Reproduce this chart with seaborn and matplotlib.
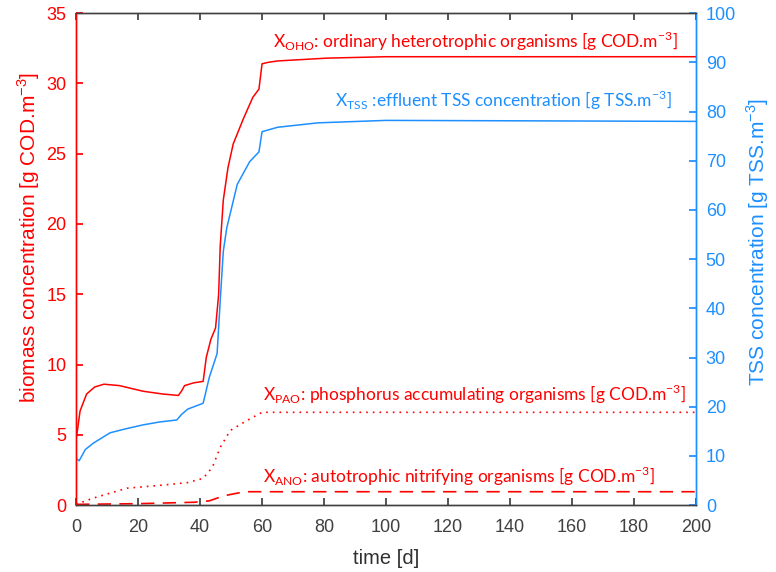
import matplotlib
matplotlib.use("Agg")
import matplotlib.pyplot as plt
import seaborn as sns
import pandas as pd

# Time series of biomass fractions (left axis, g COD/m3) and effluent TSS (right axis, g TSS/m3)
t_oho = [0, 0.5, 1.3, 3.4, 6, 9, 14, 21.6, 28, 33, 34, 35, 38, 41, 42, 43.5, 45, 46,
         46.5, 47.5, 49, 50.7, 54, 57, 59, 60, 62, 65, 81, 100, 200]
x_oho = [4.7, 5.4, 6.7, 7.9, 8.4, 8.6, 8.5, 8.1, 7.9, 7.8, 8.1, 8.5, 8.7, 8.8, 10.5, 11.8,
         12.6, 15.0, 18.4, 21.7, 24.0, 25.7, 27.5, 29.0, 29.6, 31.4, 31.5, 31.6, 31.8, 31.9, 31.9]

t_tss = [0, 1, 3, 5.6, 11, 16, 21.6, 27, 32.5, 34, 36, 41, 43, 45.5, 46.5, 47.5, 48.6,
         52, 56, 59, 60, 65, 78, 100, 200]
x_tss = [9.5, 9.0, 11.3, 12.6, 14.7, 15.5, 16.3, 16.9, 17.3, 18.4, 19.5, 20.7, 26.0, 30.8,
         41.5, 51.6, 56.3, 65.2, 69.8, 71.8, 75.9, 76.8, 77.7, 78.2, 78.0]

t_pao = [0, 5.6, 16.4, 27, 36, 41, 44, 46.5, 49.7, 55, 60, 200]
x_pao = [0.05, 0.5, 1.2, 1.4, 1.6, 1.9, 2.7, 4.1, 5.3, 6.0, 6.6, 6.6]

t_ano = [0, 20, 38, 43, 47.5, 52, 55, 200]
x_ano = [0.05, 0.1, 0.2, 0.3, 0.65, 0.85, 0.95, 0.95]

left_ticks = [0, 5, 10, 15, 20, 25, 30, 35]
right_ticks = list(range(0, 101, 10))
time_ticks = list(range(0, 201, 20))

RED = "#ff0000"
BLUE = "#1e8fff"
GREY = "#404040"

sns.set_theme(style="ticks")
plt.rcParams["font.family"] = ["Liberation Sans", "DejaVu Sans"]
plt.rcParams["mathtext.fontset"] = "custom"
plt.rcParams["mathtext.rm"] = "Lato"

fig = plt.figure(figsize=(7.76, 5.72), dpi=100)
ax = fig.add_axes([0.098, 0.117, 0.799, 0.860])
ax2 = ax.twinx()

sns.lineplot(data=pd.DataFrame({"t": t_oho, "v": x_oho}), x="t", y="v", ax=ax,
             color=RED, linewidth=1.1, estimator=None, sort=False)
sns.lineplot(data=pd.DataFrame({"t": t_pao, "v": x_pao}), x="t", y="v", ax=ax,
             color=RED, linewidth=1.2, linestyle=(0, (1, 3)), estimator=None, sort=False)
sns.lineplot(data=pd.DataFrame({"t": t_ano, "v": x_ano}), x="t", y="v", ax=ax,
             color=RED, linewidth=1.2, linestyle=(0, (8, 5)), estimator=None, sort=False)
sns.lineplot(data=pd.DataFrame({"t": t_tss, "v": x_tss}), x="t", y="v", ax=ax2,
             color=BLUE, linewidth=1.1, estimator=None, sort=False)

ax.set_xlim(0, 200)
ax.set_ylim(0, 35)
ax2.set_ylim(0, 100)
ax.set_xticks(time_ticks)
ax.set_yticks(left_ticks)
ax2.set_yticks(right_ticks)

for a in (ax, ax2):
    for s in a.spines.values():
        s.set_linewidth(1.0)
    a.spines["top"].set_color(GREY)
    a.spines["bottom"].set_color(GREY)
    a.spines["left"].set_color(RED)
    a.spines["right"].set_color(BLUE)
    a.spines["top"].set_visible(True)
    a.spines["right"].set_visible(True)

ax.tick_params(axis="x", direction="in", colors="#404040", labelsize=13, length=5,
               top=True, pad=10)
ax.tick_params(axis="y", direction="in", colors=RED, labelsize=13, length=5, pad=7)
ax2.tick_params(axis="y", direction="in", colors=BLUE, labelsize=13, length=5, pad=7)

ax.set_xlabel("time [d]", fontsize=14.5, color="#303030")
ax.xaxis.set_label_coords(0.5, -0.09)
ax.set_ylabel(r"biomass concentration [g COD.m$^{\mathregular{-3}}$]", fontsize=15,
              color=RED, va="center")
ax.yaxis.set_label_coords(-0.077, 0.545)
ax2.set_ylabel(r"TSS concentration [g TSS.m$^{\mathregular{-3}}$]", fontsize=15,
               color=BLUE, va="center", rotation=90)
ax2.yaxis.set_label_coords(1.1, 0.535)

note_font = dict(family="Lato", fontsize=12.5, va="center", ha="left")
ax.text(63.5, 33.0, r"X$_{\mathregular{OHO}}$: ordinary heterotrophic organisms [g COD.m$^{\mathregular{-3}}$]",
        color=RED, **note_font)
ax.text(83.5, 28.8, r"X$_{\mathregular{TSS}}$ :effluent TSS concentration [g TSS.m$^{\mathregular{-3}}$]",
        color=BLUE, **note_font)
ax.text(60.3, 7.9, r"X$_{\mathregular{PAO}}$: phosphorus accumulating organisms [g COD.m$^{\mathregular{-3}}$]",
        color=RED, **note_font)
ax.text(60.3, 2.05, r"X$_{\mathregular{ANO}}$: autotrophic nitrifying organisms [g COD.m$^{\mathregular{-3}}$]",
        color=RED, **note_font)

fig.savefig("out.png", dpi=100)
